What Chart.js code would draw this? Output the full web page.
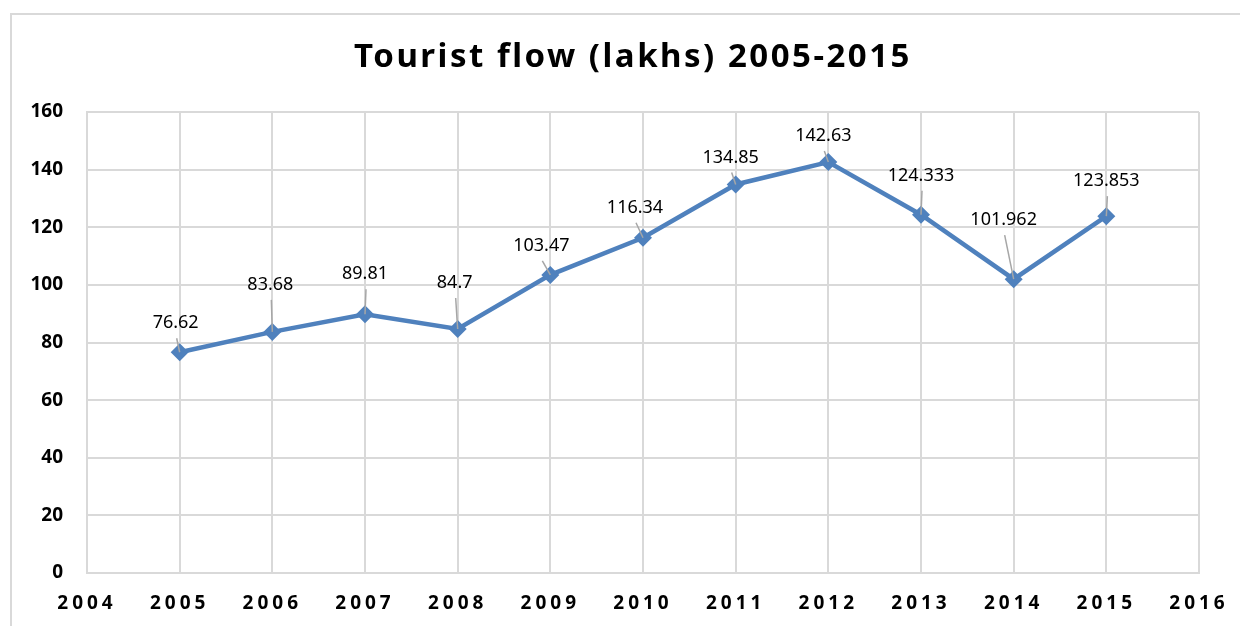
<!DOCTYPE html>
<html>
<head>
<meta charset="utf-8">
<title>Tourist flow (lakhs) 2005-2015</title>
<script src="https://cdn.jsdelivr.net/npm/chart.js@4"></script>
<style>
  html, body { margin: 0; padding: 0; background: #fff; }
  #wrap { width: 1240px; height: 626px; position: relative; }
</style>
</head>
<body>
<div id="wrap"><canvas id="flowChart" width="1240" height="626"></canvas></div>
<script>
// Tourist flow data (lakhs)
const years = [2005, 2006, 2007, 2008, 2009, 2010, 2011, 2012, 2013, 2014, 2015];
const flow = [76.62, 83.68, 89.81, 84.7, 103.47, 116.34, 134.85, 142.63, 124.333, 101.962, 123.853];
const xTickLabels = ['2004', '2005', '2006', '2007', '2008', '2009', '2010', '2011', '2012', '2013', '2014', '2015', '2016'];
const chartTitle = 'Tourist flow (lakhs) 2005-2015';

// where each data label sits relative to its point (label centre, px)
const labelOffsets = [
  [-4, -29], [-2, -47], [0, -40], [-3, -46], [-9, -29], [-8, -30],
  [-5, -27], [-5, -26], [0, -39], [-10, -59], [0, -35]
];

const LINE_BLUE = '#4f81bd';
const GRID = '#d9d9d9';
const FONT = "'Noto Sans', 'Open Sans', sans-serif";

// Outer frame + title
const framePlugin = {
  id: 'frame',
  beforeDraw(chart) {
    const ctx = chart.ctx;
    ctx.save();
    ctx.strokeStyle = '#d9d9d9';
    ctx.lineWidth = 2;
    ctx.strokeRect(11, 14, 1400, 800);
    ctx.restore();
  },
  afterDraw(chart) {
    const ctx = chart.ctx;
    ctx.save();
    ctx.fillStyle = '#000';
    ctx.font = 'bold 33px ' + FONT;
    ctx.letterSpacing = '2.5px';
    ctx.textAlign = 'center';
    ctx.textBaseline = 'middle';
    ctx.fillText(chartTitle, 633, 58);
    ctx.restore();
  }
};

// Letter-spaced x tick labels, placed with the x scale
const xLabelPlugin = {
  id: 'xLabels',
  afterDraw(chart) {
    const ctx = chart.ctx;
    const xScale = chart.scales.x;
    ctx.save();
    ctx.fillStyle = '#000';
    ctx.font = 'bold 19px ' + FONT;
    ctx.letterSpacing = '4px';
    ctx.textAlign = 'center';
    ctx.textBaseline = 'middle';
    xTickLabels.forEach(lbl => {
      const px = xScale.getPixelForValue(Number(lbl));
      ctx.fillText(lbl, px, 604);
    });
    ctx.restore();
  }
};

// Data labels with leader lines
const dataLabelPlugin = {
  id: 'dataLabels',
  afterDatasetsDraw(chart) {
    const ctx = chart.ctx;
    const meta = chart.getDatasetMeta(0);
    ctx.save();
    meta.data.forEach((pt, i) => {
      const [dx, dy] = labelOffsets[i];
      const lx = pt.x + dx;
      const ly = pt.y + dy;
      // leader line
      const startY = ly + 15;
      if (pt.y - startY > 6) {
        ctx.strokeStyle = '#a6a6a6';
        ctx.lineWidth = 1.5;
        ctx.beginPath();
        ctx.moveTo(lx + 1, startY);
        ctx.lineTo(pt.x, pt.y);
        ctx.stroke();
      }
      ctx.fillStyle = '#000';
      ctx.font = '18px ' + FONT;
      ctx.textAlign = 'center';
      ctx.textBaseline = 'middle';
      ctx.fillText(String(flow[i]), lx, ly);
    });
    ctx.restore();
  }
};

new Chart(document.getElementById('flowChart'), {
  type: 'line',
  data: {
    datasets: [{
      label: 'Tourist flow',
      data: years.map((yr, i) => ({ x: yr, y: flow[i] })),
      borderColor: LINE_BLUE,
      backgroundColor: LINE_BLUE,
      borderWidth: 4.5,
      pointStyle: 'rectRot',
      pointRadius: 9,
      pointHoverRadius: 9,
      pointBorderWidth: 0,
      tension: 0
    }]
  },
  options: {
    responsive: false,
    animation: false,
    layout: { padding: { top: 112, right: 41, bottom: 53, left: 0 } },
    plugins: {
      legend: { display: false },
      title: { display: false },
      tooltip: { enabled: false }
    },
    scales: {
      x: {
        type: 'linear',
        min: 2004,
        max: 2016,
        ticks: { display: false, stepSize: 1 },
        grid: { color: GRID, lineWidth: 2, drawTicks: false },
        border: { color: GRID, width: 2 }
      },
      y: {
        min: 0,
        max: 160,
        afterFit(scale) { scale.width = 87; },
        ticks: {
          stepSize: 20,
          padding: 24,
          color: '#000',
          font: { family: FONT, size: 19, weight: 'bold' }
        },
        grid: { color: GRID, lineWidth: 2, drawTicks: false },
        border: { color: GRID, width: 2 }
      }
    }
  },
  plugins: [framePlugin, xLabelPlugin, dataLabelPlugin]
});
</script>
</body>
</html>
